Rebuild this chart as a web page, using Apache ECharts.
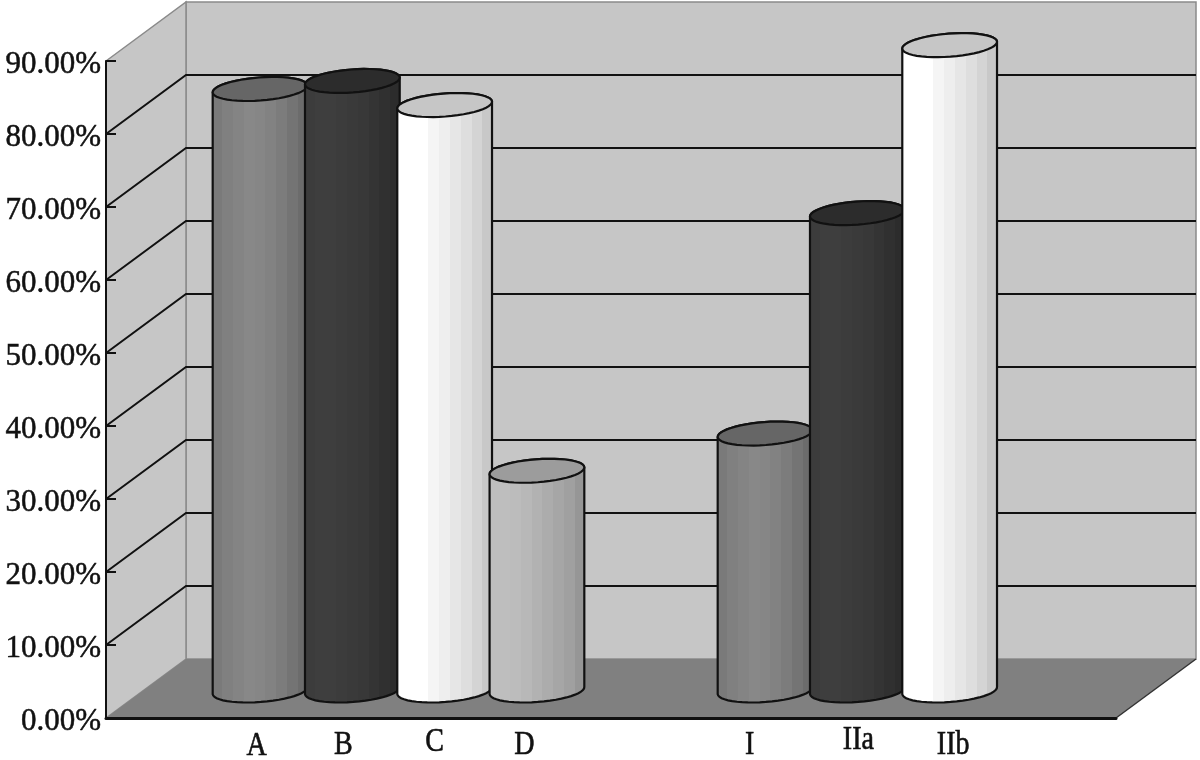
<!DOCTYPE html>
<html>
<head>
<meta charset="utf-8">
<style>
  html, body { margin: 0; background: #fff; }
  #chart { width: 1200px; height: 760px; }
</style>
<script src="https://cdn.jsdelivr.net/npm/echarts@6/dist/echarts.min.js"></script>
</head>
<body>
<div id="chart"></div>
<script>
// two groups of cylinders, four series each (group 2 has no fourth one)
const groups = ['Group 1', 'Group 2'];
const greyValues = [82.4, 35.2];
const darkValues = [83.5, 65.4];
const whiteValues = [80.2, 88.4];
const lightValues = [30.1, null];
const greyLabels = ['A', 'I'];
const darkLabels = ['B', 'IIa'];
const whiteLabels = ['C', 'IIb'];
const lightLabels = ['D', ''];
const ticks = [10, 20, 30, 40, 50, 60, 70, 80];

// style of each cylinder
const looks = [
  { top: '#666666', bands: ['#7a7a7a', '#808080', '#848484', '#888888', '#868686', '#828282', '#7c7c7c', '#747474', '#6c6c6c'] },
  { top: '#2c2c2c', bands: ['#3c3c3c', '#3e3e3e', '#3e3e3e', '#3c3c3c', '#3a3a3a', '#383838', '#343434', '#303030', '#2c2c2c'] },
  { top: '#c6c6c6', bands: ['#ffffff', '#ffffff', '#ffffff', '#f5f5f5', '#eeeeee', '#e6e6e6', '#dedede', '#d4d4d4', '#c8c8c8'] },
  { top: '#9c9c9c', bands: ['#bebebe', '#bebebe', '#bcbcbc', '#b8b8b8', '#b2b2b2', '#acacac', '#a6a6a6', '#a0a0a0', '#969696'] }
];
const labelNudge = [[-3.5, -15.5], [-9, 1], [-10, 3.5], [-12.5, 0]];
const labelDrop = [[28, 27], [27, 22], [24, 27], [27, 0]];

const depthX = 80, depthY = -59;
const barStep = 92.3, rx = 47.5, ry = 11.5, tilt = 0.075;
const midX = 40, midY = -27.5;
const WALL = '#c6c6c6', FLOOR = '#808080', EDGE = '#8a8a8a', INK = '#111111';

function bandStops(bands) {
  const stops = [];
  bands.forEach(function (c, i) {
    stops.push({ offset: i / bands.length, color: c });
    stops.push({ offset: (i + 1) / bands.length, color: c });
  });
  return stops;
}

function ellipsePoint(cx, cy, a) {
  const x = rx * Math.cos(a), y = ry * Math.sin(a);
  return [cx + x * Math.cos(tilt) + y * Math.sin(tilt), cy - x * Math.sin(tilt) + y * Math.cos(tilt)];
}

function renderWalls(params, api) {
  const g = params.coordSys;
  const x0 = g.x, y0 = g.y, x1 = g.x + g.width, y1 = g.y + g.height;
  const dx = depthX, dy = depthY;
  return {
    type: 'group',
    children: [
      { type: 'polygon', shape: { points: [[x0 + dx, y0 + dy], [x1 + dx, y0 + dy], [x1 + dx, y1 + dy], [x0 + dx, y1 + dy]] },
        style: { fill: WALL, stroke: EDGE, lineWidth: 1.5 } },
      { type: 'polygon', shape: { points: [[x0, y0], [x0 + dx, y0 + dy], [x0 + dx, y1 + dy], [x0, y1]] },
        style: { fill: WALL, stroke: EDGE, lineWidth: 1.5 } },
      { type: 'polygon', shape: { points: [[x0, y1], [x0 + dx, y1 + dy], [x1 + dx, y1 + dy], [x1, y1]] },
        style: { fill: FLOOR } },
      { type: 'line', shape: { x1: x1, y1: y1, x2: x1 + dx, y2: y1 + dy }, style: { stroke: '#333333', lineWidth: 1.5 } }
    ]
  };
}

function renderTick(params, api) {
  const g = params.coordSys;
  const y = api.coord([0, api.value(1)])[1];
  const x0 = g.x, x1 = g.x + g.width;
  const lineStyle = { stroke: INK, lineWidth: 2, fill: null };
  return {
    type: 'group',
    children: [
      { type: 'polyline', shape: { points: [[x0, y], [x0 + depthX, y + depthY], [x1 + depthX, y + depthY]] }, style: lineStyle }
    ]
  };
}

function makeCylinder(order, names) {
  return function (params, api) {
    const cat = api.value(0);
    const base = api.coord([cat, 0]);
    const top = api.coord([cat, api.value(1)]);
    const cx = base[0] + (order - 1.5) * barStep + midX;
    const by = base[1] + midY, ty = top[1] + midY;
    const pts = [];
    for (let k = 0; k <= 24; k++) pts.push(ellipsePoint(cx, by, Math.PI - (k / 24) * Math.PI));
    for (let k = 0; k <= 24; k++) pts.push(ellipsePoint(cx, ty, (k / 24) * Math.PI * -1));
    const look = looks[order];
    const capPts = [];
    for (let k = 0; k < 48; k++) capPts.push(ellipsePoint(cx, ty, (k / 48) * Math.PI * 2));
    return {
      type: 'group',
      children: [
        { type: 'polygon', shape: { points: pts },
          style: { fill: new echarts.graphic.LinearGradient(0, 0, 1, 0, bandStops(look.bands)), stroke: INK, lineWidth: 2.2 } },
        { type: 'polygon', shape: { points: capPts },
          style: { fill: look.top, stroke: INK, lineWidth: 2.2 } },
        { type: 'text', x: cx + labelNudge[order][cat], y: base[1] + labelDrop[order][cat], scaleX: 0.85,
          style: { text: names[cat], fill: '#111111', stroke: '#111111', lineWidth: 0.6, font: '33px "Liberation Serif"', align: 'center', verticalAlign: 'middle' } }
      ]
    };
  };
}

function rows(values) {
  return values.map(function (v, i) { return [i, v]; }).filter(function (r) { return r[1] !== null; });
}

const chart = echarts.init(document.getElementById('chart'));
chart.setOption({
  animation: false,
  backgroundColor: '#ffffff',
  grid: { left: 106, top: 61, width: 1010, height: 657 },
  xAxis: {
    type: 'category',
    data: groups,
    axisLine: { lineStyle: { color: '#111111', width: 3 } },
    axisTick: { show: false },
    axisLabel: { show: false },
    z: 10
  },
  yAxis: {
    type: 'value',
    min: 0,
    max: 90,
    interval: 10,
    splitLine: { show: false },
    axisLine: { show: true, lineStyle: { color: '#111111', width: 2 } },
    axisTick: { show: true, inside: true, length: 10, lineStyle: { color: '#111111', width: 2 } },
    axisLabel: {
      margin: 5,
      verticalAlign: 'top',
      lineHeight: 8,
      color: '#111111',
      fontFamily: 'Liberation Serif',
      fontSize: 31,
      textBorderColor: '#111111',
      textBorderWidth: 0.5,
      formatter: function (v) { return v.toFixed(2) + '%'; }
    },
    z: 10
  },
  series: [
    { type: 'custom', name: 'walls', renderItem: renderWalls, data: [[0, 0]], silent: true, z: 1 },
    { type: 'custom', name: 'grid', renderItem: renderTick, data: ticks.map(function (t) { return [0, t]; }), silent: true, z: 2 },
    { type: 'custom', name: 'grey', renderItem: makeCylinder(0, greyLabels), data: rows(greyValues), z: 3 },
    { type: 'custom', name: 'dark', renderItem: makeCylinder(1, darkLabels), data: rows(darkValues), z: 3 },
    { type: 'custom', name: 'white', renderItem: makeCylinder(2, whiteLabels), data: rows(whiteValues), z: 3 },
    { type: 'custom', name: 'light', renderItem: makeCylinder(3, lightLabels), data: rows(lightValues), z: 3 }
  ]
});
</script>
</body>
</html>
